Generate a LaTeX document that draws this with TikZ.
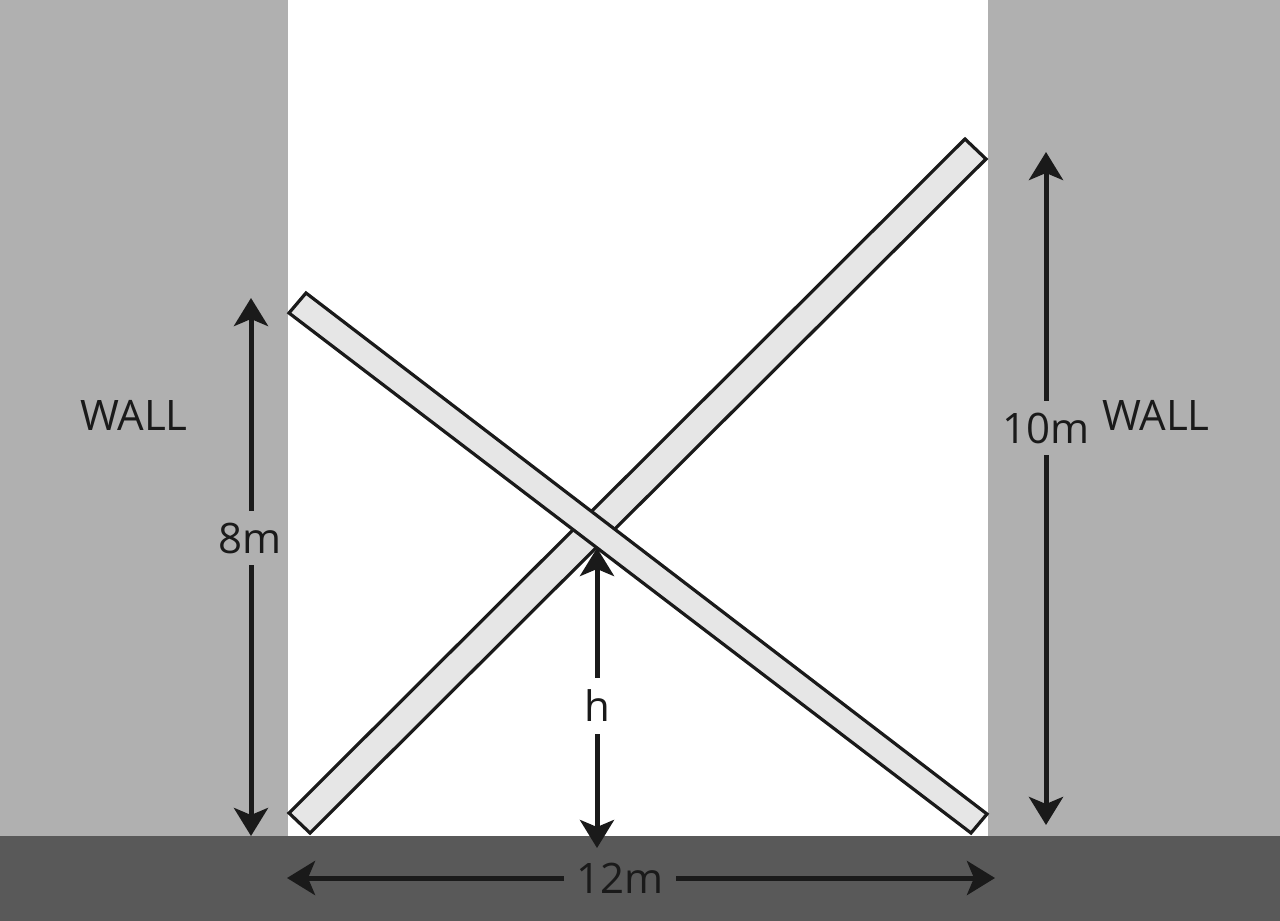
\documentclass[tikz,border=0pt]{standalone}
\usepackage{fontspec}
\setmainfont{Open Sans}
\usetikzlibrary{arrows.meta}
\definecolor{wallgray}{HTML}{B0B0B0}
\definecolor{floorgray}{HTML}{595959}
\definecolor{laddergray}{HTML}{E6E6E6}
\definecolor{ink}{HTML}{1A1A1A}
\tikzset{
  ladder/.style={fill=laddergray, draw=ink, line width=1.6pt, line join=miter},
  dim/.style={draw=ink, line width=2.5pt, {Stealth[length=14pt,width=17pt,inset=3.5pt]}-{Stealth[length=14pt,width=17pt,inset=3.5pt]}},
  dimlabel/.style={text=ink, font=\fontsize{21}{25}\selectfont, inner sep=6pt},
  walllabel/.style={text=ink, font=\fontsize{21}{25}\selectfont, inner sep=0pt},
}
\begin{document}
\begin{tikzpicture}[x=0.5pt, y=-0.5pt]
\useasboundingbox (0,0) rectangle (1280,921);
% background regions
\fill[white] (0,0) rectangle (1280,921);
\fill[wallgray] (0,0) rectangle (288,836);
\fill[wallgray] (988,0) rectangle (1280,836);
\fill[floorgray] (0,836) rectangle (1280,921);
% ladders
\draw[ladder] (289,813) -- (310,833) -- (986,159) -- (965,139) -- cycle;
\draw[ladder] (289,313) -- (306,293) -- (987,814) -- (971,833) -- cycle;
% coordinates for dimension arrows
\coordinate (lt) at (251,298);
\coordinate (lb) at (251,836);
\coordinate (rt) at (1046,152);
\coordinate (rb) at (1046,825);
\coordinate (ht) at (597,548);
\coordinate (hb) at (597,848);
\coordinate (bl) at (287,878);
\coordinate (br) at (995,878);
% arrows
\draw[dim] (lt) -- (lb);
\draw[dim] (rt) -- (rb);
\draw[dim] (ht) -- (hb);
\draw[dim] (bl) -- (br);
% labels
\node[dimlabel, fill=wallgray, inner xsep=1pt] (l8) at (250,538) {8m};
\node[dimlabel, fill=wallgray] (l10) at (1046,428) {10m};
\node[dimlabel, fill=white] (lh) at (597,706) {h};
\node[dimlabel, fill=floorgray] (l12) at (620,878) {12m};
\node[walllabel] (wl) at (134,415) {WALL};
\node[walllabel] (wr) at (1156,415) {WALL};
\end{tikzpicture}
\end{document}
